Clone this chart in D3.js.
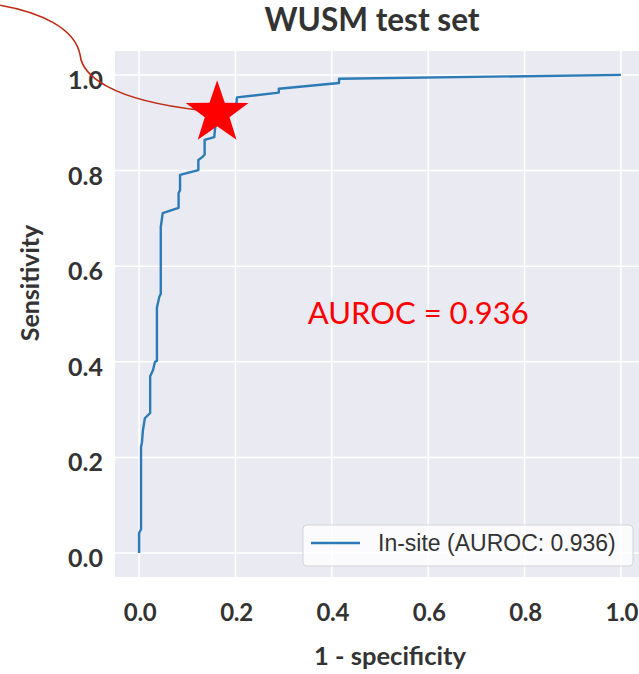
<!DOCTYPE html>
<html><head><meta charset="utf-8">
<script src="https://cdn.jsdelivr.net/npm/d3@7"></script>
<style>body{margin:0;background:#fff}</style></head>
<body><svg id="c" width="639" height="674"></svg>
<script>
// ---- data ----
const fpr = [0.000,0.000,0.004,0.004,0.006,0.008,0.012,0.023,0.023,0.029,0.033,0.037,0.037,0.042,0.045,0.045,0.049,0.082,0.082,0.085,0.085,0.123,0.123,0.131,0.136,0.136,0.156,0.158,0.162,0.178,0.190,0.196,0.2025,0.2025,0.2035,0.290,0.290,0.415,0.415,1.000];
const tpr = [0.000,0.042,0.050,0.222,0.232,0.257,0.282,0.293,0.370,0.383,0.400,0.402,0.513,0.536,0.542,0.682,0.711,0.722,0.753,0.759,0.791,0.801,0.822,0.828,0.833,0.864,0.870,0.891,0.897,0.910,0.918,0.930,0.943,0.950,0.953,0.963,0.971,0.983,0.992,1.000];
const xTicks = [0.0,0.2,0.4,0.6,0.8,1.0];
const yTicks = [0.0,0.2,0.4,0.6,0.8,1.0];
const xTickLabels = ["0.0","0.2","0.4","0.6","0.8","1.0"];
const yTickLabels = ["0.0","0.2","0.4","0.6","0.8","1.0"];
const highlight = {fpr:0.162, tpr:0.92};
const titleText = "WUSM test set";
const xLabel = "1 - specificity";
const yLabel = "Sensitivity";
const legendLabel = "In-site (AUROC: 0.936)";
const aurocText = "AUROC = 0.936";
const aurocPos = {fpr:0.35, tpr:0.50};

// ---- drawing ----
const svg = d3.select("#c");
const x = d3.scaleLinear().domain([-0.05,1.05]).range([115,645]);
const y = d3.scaleLinear().domain([-0.05,1.05]).range([577,51]);
const boldFont = "Lato, 'Open Sans', sans-serif";
const txt = "#333";

// background
svg.append("rect").attr("x",x(-0.05)).attr("y",y(1.05))
  .attr("width",x(1.05)-x(-0.05)).attr("height",y(-0.05)-y(1.05)).attr("fill","#EAEAF2");

// grid
svg.append("g").selectAll("line").data(xTicks).join("line")
  .attr("x1",d=>x(d)).attr("x2",d=>x(d)).attr("y1",y(1.05)).attr("y2",y(-0.05))
  .attr("stroke","#fff").attr("stroke-width",1.5);
svg.append("g").selectAll("line").data(yTicks).join("line")
  .attr("y1",d=>y(d)).attr("y2",d=>y(d)).attr("x1",x(-0.05)).attr("x2",x(1.05))
  .attr("stroke","#fff").attr("stroke-width",1.5);

// ROC curve
const pts = fpr.map((f,i)=>[f,tpr[i]]);
svg.append("path").datum(pts)
  .attr("d", d3.line().x(d=>x(d[0])).y(d=>y(d[1])))
  .attr("fill","none").attr("stroke","#2c7bb6").attr("stroke-width",2.4)
  .attr("stroke-linejoin","round");

// tick labels
svg.append("g").selectAll("text").data(xTicks).join("text")
  .attr("x",d=>x(d)+1).attr("y",621).attr("text-anchor","middle")
  .attr("font-family",boldFont).attr("font-weight","bold").attr("font-size",24).attr("fill",txt)
  .attr("letter-spacing",-0.3)
  .text((d,i)=>xTickLabels[i]);
svg.append("g").selectAll("text").data(yTicks).join("text")
  .attr("x",103).attr("y",d=>y(d)+14).attr("text-anchor","end")
  .attr("font-family",boldFont).attr("font-weight","bold").attr("font-size",25).attr("fill",txt)
  .text((d,i)=>yTickLabels[i]);

// titles
svg.append("text").attr("x",372).attr("y",31).attr("text-anchor","middle")
  .attr("font-family",boldFont).attr("font-weight","bold").attr("font-size",31.5).attr("fill",txt)
  .text(titleText);
svg.append("text").attr("x",390).attr("y",665).attr("text-anchor","middle")
  .attr("font-family",boldFont).attr("font-weight","bold").attr("font-size",25.5).attr("fill",txt)
  .text(xLabel);
svg.append("text").attr("transform","translate(39,283) rotate(-90)").attr("text-anchor","middle")
  .attr("font-family",boldFont).attr("font-weight","bold").attr("font-size",25).attr("fill",txt)
  .text(yLabel);

// AUROC annotation
svg.append("text").attr("x",x(aurocPos.fpr)).attr("y",y(aurocPos.tpr)+10)
  .attr("font-family","Lato, sans-serif").attr("font-size",31).attr("fill","#ff0000")
  .text(aurocText);

// legend
const lx = x(1.05)-12, ly = y(-0.05)-11;
const lg = svg.append("g");
lg.append("rect").attr("x",303).attr("y",ly-41).attr("width",lx-303).attr("height",41)
  .attr("rx",4).attr("fill","#fff").attr("fill-opacity",0.8)
  .attr("stroke","#ccc").attr("stroke-opacity",0.8);
lg.append("line").attr("x1",311).attr("x2",360).attr("y1",ly-23).attr("y2",ly-23)
  .attr("stroke","#2c7bb6").attr("stroke-width",2.4);
lg.append("text").attr("x",378).attr("y",ly-15)
  .attr("font-family","'Liberation Sans', Arial, sans-serif").attr("font-size",23).attr("fill",txt)
  .text(legendLabel);

// red annotation curve ending at the star
const sx = x(highlight.fpr), sy = y(highlight.tpr);
svg.append("path")
  .attr("d",`M${sx-217},${sy-108} C${sx-177},${sy-101} ${sx-142},${sy-85} ${sx-137},${sy-58} C${sx-135},${sy-38} ${sx-107},${sy-13} ${sx-17},${sy-3}`)
  .attr("fill","none").attr("stroke","#bf2a14").attr("stroke-width",1.6);

// star
const starPts = d3.range(10).map(i=>{
  const r = i%2===0 ? 33 : 13;
  const a = -Math.PI/2 + i*Math.PI/5;
  return [sx + r*Math.cos(a), sy + r*Math.sin(a)];
});
svg.append("path").attr("d", d3.line()(starPts)+"Z").attr("fill","#ff0000");
</script></body></html>
